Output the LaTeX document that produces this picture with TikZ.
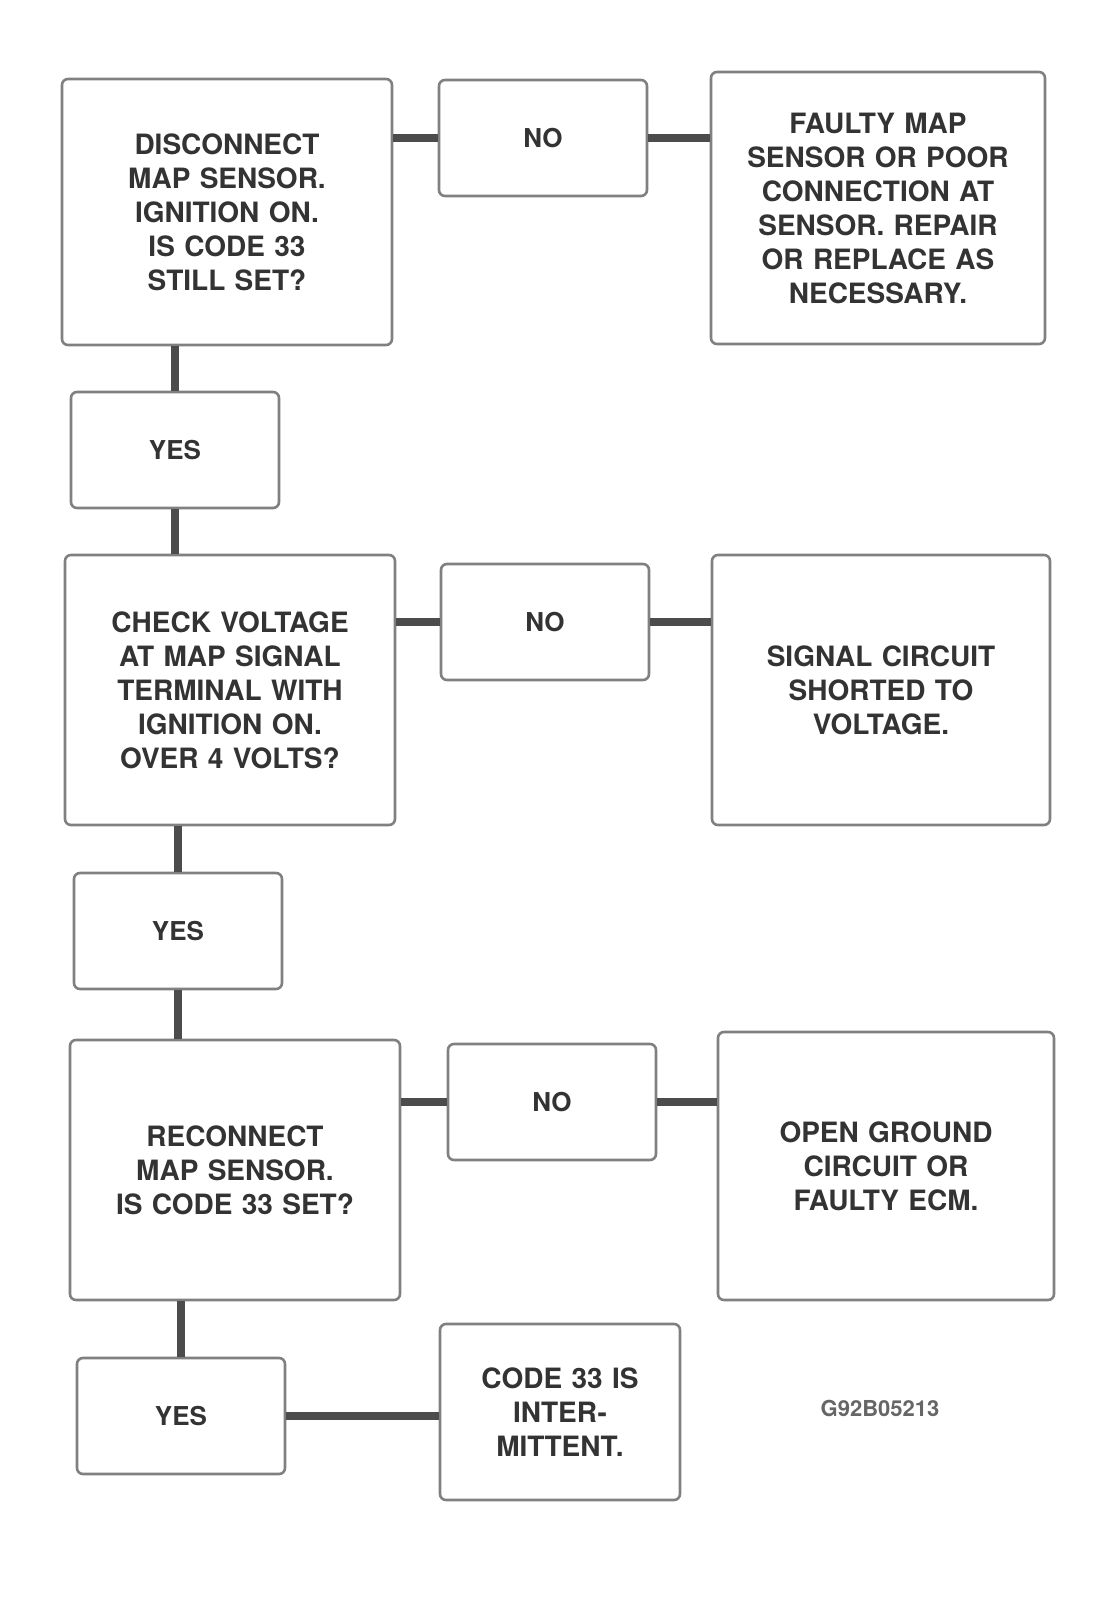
\documentclass[tikz,border=0pt]{standalone}
\usepackage{fontspec}
\setmainfont{TeX Gyre Heros}
\usetikzlibrary{arrows,positioning}

\begin{document}
\begin{tikzpicture}[x=0.5pt,y=-0.5pt,-,>=stealth',semithick]
  \tikzstyle{box}=[draw=black!50,line width=1.3pt,rounded corners=3pt,align=center,
                   inner sep=0pt,font=\bfseries\fontsize{14}{17}\selectfont,text=black!80]
  \tikzstyle{ans}=[box,minimum width=104pt,minimum height=58pt,font=\bfseries\fontsize{13}{16}\selectfont]
  \tikzstyle{link}=[line width=4pt,black!70]

  \useasboundingbox (0,0) rectangle (1112,1603);

  \node[box,minimum width=165pt,minimum height=133pt,text width=130pt] (A1) at (227,212)
       {DISCONNECT\\MAP SENSOR.\\IGNITION ON.\\IS CODE 33\\STILL SET?};
  \node[ans] (N1) at (543,138) {NO};
  \node[box,minimum width=167pt,minimum height=136pt,text width=135pt] (R1) at (878,208)
       {FAULTY MAP\\SENSOR OR POOR\\CONNECTION AT\\SENSOR. REPAIR\\OR REPLACE AS\\NECESSARY.};
  \node[ans] (Y1) at (175,450) {YES};

  \node[box,minimum width=165pt,minimum height=135pt,text width=130pt] (A2) at (230,690)
       {CHECK VOLTAGE\\AT MAP SIGNAL\\TERMINAL WITH\\IGNITION ON.\\OVER 4 VOLTS?};
  \node[ans] (N2) at (545,622) {NO};
  \node[box,minimum width=169pt,minimum height=135pt,text width=135pt] (R2) at (881,690)
       {SIGNAL CIRCUIT\\SHORTED TO\\VOLTAGE.};
  \node[ans] (Y2) at (178,931) {YES};

  \node[box,minimum width=165pt,minimum height=130pt,text width=130pt] (A3) at (235,1170)
       {RECONNECT\\MAP SENSOR.\\IS CODE 33 SET?};
  \node[ans] (N3) at (552,1102) {NO};
  \node[box,minimum width=168pt,minimum height=134pt,text width=135pt] (R3) at (886,1166)
       {OPEN GROUND\\CIRCUIT OR\\FAULTY ECM.};
  \node[ans] (Y3) at (181,1416) {YES};
  \node[box,minimum width=120pt,minimum height=88pt,text width=95pt] (B) at (560,1412)
       {CODE 33 IS\\INTER-\\MITTENT.};

  \node[font=\bfseries\fontsize{11}{13}\selectfont,text=black!60] (fig) at (880,1408) {G92B05213};

  \path[link] (A1.east |- N1) edge (N1)
        (N1) edge (N1 -| R1.west)
        (Y1.north |- A1.south) edge (Y1)
        (Y1) edge (Y1 |- A2.north)
        (A2.east |- N2) edge (N2)
        (N2) edge (N2 -| R2.west)
        (Y2.north |- A2.south) edge (Y2)
        (Y2) edge (Y2 |- A3.north)
        (A3.east |- N3) edge (N3)
        (N3) edge (N3 -| R3.west)
        (Y3.north |- A3.south) edge (Y3)
        (Y3) edge (Y3 -| B.west);
\end{tikzpicture}
\end{document}
